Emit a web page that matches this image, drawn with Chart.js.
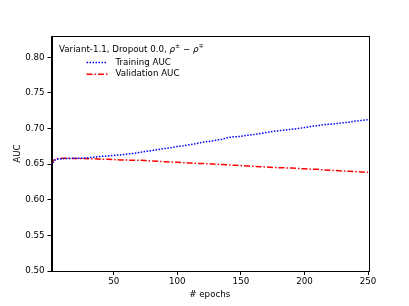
<!DOCTYPE html>
<html>
<head>
<meta charset="utf-8">
<script src="https://cdn.jsdelivr.net/npm/chart.js@4.4.1/dist/chart.umd.min.js"></script>
<style>
  html, body { margin: 0; padding: 0; background: #fff; }
  #wrap { width: 409px; height: 306px; }
</style>
</head>
<body>
<div id="wrap"><canvas id="grafica" width="409" height="306"></canvas></div>
<script>
const epocas = [1, 2, 3, 4, 5, 6, 8, 10, 15, 20, 25, 30, 35, 40, 45, 50, 55, 60, 65, 70, 75, 80, 85, 90, 95,
  100, 105, 110, 115, 120, 125, 130, 135, 140, 145, 150, 155, 160, 165, 170, 175, 180, 185, 190, 195,
  200, 205, 210, 215, 220, 225, 230, 235, 240, 245, 250];

const aucEntrenamiento = [0.648, 0.652, 0.655, 0.656, 0.657, 0.657, 0.6575, 0.6578, 0.658, 0.6585, 0.6585,
  0.659, 0.660, 0.661, 0.6615, 0.6625, 0.663, 0.664, 0.665, 0.6665, 0.668, 0.669, 0.6705, 0.672, 0.673,
  0.6748, 0.676, 0.6775, 0.679, 0.681, 0.682, 0.6835, 0.685, 0.6875, 0.6885, 0.689, 0.6905, 0.6915, 0.693,
  0.6945, 0.696, 0.697, 0.698, 0.699, 0.700, 0.7015, 0.703, 0.704, 0.7055, 0.706, 0.707, 0.708, 0.709,
  0.7105, 0.7115, 0.7125];

const aucValidacion = [0.650, 0.654, 0.656, 0.657, 0.6575, 0.658, 0.658, 0.6582, 0.6582, 0.658, 0.658,
  0.6578, 0.6575, 0.657, 0.657, 0.6565, 0.656, 0.6558, 0.6555, 0.6555, 0.655, 0.6545, 0.654, 0.6535, 0.653,
  0.6528, 0.652, 0.6515, 0.651, 0.651, 0.6505, 0.650, 0.6495, 0.649, 0.6485, 0.648, 0.6475, 0.647, 0.6465,
  0.646, 0.6455, 0.645, 0.6448, 0.6445, 0.644, 0.6435, 0.643, 0.6428, 0.642, 0.6415, 0.641, 0.6405, 0.640,
  0.6395, 0.639, 0.6385];

const ticksY = [0.50, 0.55, 0.60, 0.65, 0.70, 0.75, 0.80];
const ticksX = [50, 100, 150, 200, 250];

const titulo = 'Variant-1.1, Dropout 0.0, ';
const etiquetas = ['Training AUC', 'Validation AUC'];
const colores = ['#0000ff', '#ff0000'];
const guiones = [[1.5, 1.5], [6, 2, 1.5, 2]];

const fuente = 'DejaVu Sans';
const tam = 8.7;

function aPuntos(valores) {
  return epocas.map((e, i) => ({ x: e, y: valores[i] }));
}

// marco completo y leyenda dentro del area
const marcoYLeyenda = {
  id: 'marcoYLeyenda',
  afterDraw(chart) {
    const ctx = chart.ctx;
    const a = chart.chartArea;
    ctx.save();
    ctx.strokeStyle = '#000';
    ctx.lineWidth = 1;
    ctx.strokeRect(Math.round(a.left) + 0.5, Math.round(a.top) + 0.5,
      Math.round(a.right - a.left), Math.round(a.bottom - a.top));

    // titulo de la leyenda
    ctx.fillStyle = '#000';
    ctx.textBaseline = 'middle';
    ctx.textAlign = 'left';
    ctx.font = tam + 'px "' + fuente + '"';
    let x = a.left + 7.5;
    const yt = a.top + 13.5;
    ctx.fillText(titulo, x, yt);
    x += ctx.measureText(titulo).width;
    const partes = [
      { t: 'ρ', f: 'italic ' + tam + 'px "' + fuente + '"', dy: 0 },
      { t: '±', f: '6.2px "' + fuente + '"', dy: -3.5 },
      { t: ' − ', f: tam + 'px "' + fuente + '"', dy: 0 },
      { t: 'ρ', f: 'italic ' + tam + 'px "' + fuente + '"', dy: 0 },
      { t: '∓', f: '6.2px "' + fuente + '"', dy: -3.5 }
    ];
    partes.forEach(p => {
      ctx.font = p.f;
      ctx.fillText(p.t, x, yt + p.dy);
      x += ctx.measureText(p.t).width;
    });

    // entradas
    ctx.font = tam + 'px "' + fuente + '"';
    etiquetas.forEach((et, i) => {
      const y = a.top + 26.5 + i * 11.7;
      ctx.beginPath();
      ctx.setLineDash(guiones[i]);
      ctx.strokeStyle = colores[i];
      ctx.lineWidth = 1.5;
      ctx.moveTo(a.left + 35, y);
      ctx.lineTo(a.left + 56, y);
      ctx.stroke();
      ctx.setLineDash([]);
      ctx.fillStyle = '#000';
      ctx.fillText(et, a.left + 64, y);
    });
    ctx.restore();
  }
};

new Chart(document.getElementById('grafica'), {
  type: 'line',
  data: {
    datasets: [
      {
        label: etiquetas[0],
        data: aPuntos(aucEntrenamiento),
        borderColor: colores[0],
        borderWidth: 1.5,
        borderDash: guiones[0],
        pointRadius: 0,
        fill: false,
        tension: 0
      },
      {
        label: etiquetas[1],
        data: aPuntos(aucValidacion),
        borderColor: colores[1],
        borderWidth: 1.5,
        borderDash: guiones[1],
        pointRadius: 0,
        fill: false,
        tension: 0
      }
    ]
  },
  options: {
    responsive: false,
    animation: false,
    devicePixelRatio: 1,
    layout: { padding: { left: 13, right: 41, top: 36, bottom: 6 } },
    plugins: {
      legend: { display: false },
      tooltip: { enabled: false }
    },
    scales: {
      x: {
        type: 'linear',
        min: 1,
        max: 250,
        afterBuildTicks: s => { s.ticks = ticksX.map(v => ({ value: v })); },
        afterFit: s => { s.height = 29; },
        grid: { drawOnChartArea: false, drawTicks: true, tickLength: 4, color: '#000' },
        border: { display: true, color: '#000' },
        ticks: {
          color: '#000',
          font: { family: fuente, size: tam },
          padding: 2,
          maxRotation: 0,
          callback: v => String(v)
        },
        title: {
          display: true,
          text: '# epochs',
          color: '#000',
          font: { family: fuente, size: tam },
          padding: { top: 0, bottom: 0 }
        }
      },
      y: {
        type: 'linear',
        min: 0.5,
        max: 0.83,
        afterBuildTicks: s => { s.ticks = ticksY.map(v => ({ value: v })); },
        afterFit: s => { s.width = 38.5; },
        grid: { drawOnChartArea: false, drawTicks: true, tickLength: 4, color: '#000' },
        border: { display: true, color: '#000' },
        ticks: {
          color: '#000',
          font: { family: fuente, size: tam },
          padding: 3,
          callback: v => v.toFixed(2)
        },
        title: {
          display: true,
          text: 'AUC',
          color: '#000',
          font: { family: fuente, size: tam },
          padding: { top: 0, bottom: 0 }
        }
      }
    }
  },
  plugins: [marcoYLeyenda]
});
</script>
</body>
</html>
